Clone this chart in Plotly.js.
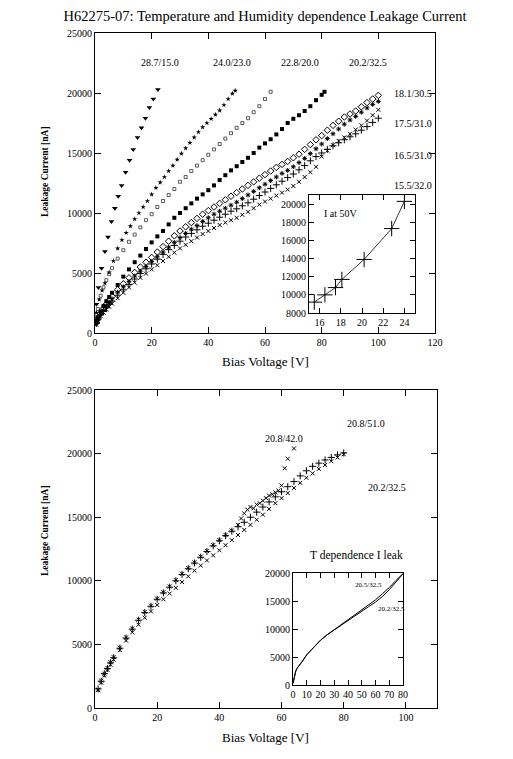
<!DOCTYPE html>
<html>
<head>
<meta charset="utf-8">
<script src="https://cdn.plot.ly/plotly-3.0.1.min.js"></script>
<style>html,body{margin:0;padding:0;background:#fff;}#chart{width:513px;height:759px;}</style>
</head>
<body>
<div id="chart"></div>
<script>
// ---------- Top panel data (Bias Voltage [V] vs Leakage Current [nA]) ----------
const v_287 = [0.5, 1.2, 2.3, 3.5, 4.6, 5.8, 7.0, 8.2, 9.4, 10.8, 12.2, 13.5, 15.0, 16.4, 17.8, 19.2, 20.6, 22.2];
const i_287 = [2400, 3800, 5400, 6800, 8000, 9300, 10400, 11400, 12300, 13400, 14400, 15300, 16300, 17100, 17900, 18800, 19500, 20300];

const v_240 = [0.5, 1.5, 2.5, 3.5, 5, 6.5, 8, 9.5, 11, 12.5, 14, 15.5, 17, 18.5, 20, 21.5, 23, 24.5, 26, 27.5, 29, 30.5, 32, 33.5, 35, 36.5, 38, 39.5, 41, 42.5, 44, 45.5, 47, 48.5, 49.5];
const i_240 = [1700, 2800, 3550, 4150, 5050, 6000, 7050, 7750, 8350, 8900, 9500, 10000, 10500, 11000, 11550, 12100, 12550, 13000, 13500, 13950, 14450, 14950, 15400, 15850, 16300, 16750, 17150, 17500, 17850, 18200, 18550, 19000, 19500, 19950, 20200];

const v_228 = [0.5, 1, 2, 3, 4, 5, 6, 8, 10, 12, 14, 16, 18, 20, 22, 24, 26, 28, 30, 32, 34, 36, 38, 40, 42, 44, 46, 48, 50, 52, 54, 56, 58, 60, 62];
const i_228 = [1300, 2000, 3100, 3800, 4400, 4900, 5400, 6200, 6900, 7600, 8200, 8800, 9400, 9900, 10500, 11000, 11500, 12000, 12600, 13000, 13500, 13950, 14400, 14850, 15300, 15750, 16200, 16650, 17100, 17500, 17900, 18400, 18900, 19500, 20100];

const v_202 = [0.5, 1, 2, 3, 4, 5, 6, 8, 10, 12, 14, 16, 18, 20, 22, 24, 26, 28, 30, 32, 34, 36, 38, 40, 42, 44, 46, 48, 50, 52, 54, 56, 58, 60, 62, 64, 66, 68, 70, 72, 74, 76, 78, 80, 81];
const i_202 = [1000, 1300, 1800, 2250, 2650, 3000, 3350, 4000, 4700, 5300, 5900, 6450, 7000, 7550, 8050, 8500, 9050, 9600, 10000, 10400, 10800, 11200, 11550, 11900, 12300, 12750, 13150, 13550, 13900, 14250, 14600, 15000, 15450, 15800, 16150, 16550, 17000, 17500, 17850, 18150, 18500, 18900, 19400, 19850, 20100];

const v_cluster = [0.5, 1, 2, 3, 4, 5, 6, 8, 10, 12, 14, 16, 18, 20, 22, 24, 26, 28, 30, 32, 34, 36, 38, 40, 42, 44, 46, 48, 50, 52, 54, 56, 58, 60, 62, 64, 66, 68, 70, 72, 74, 76, 78, 80, 82, 84, 86, 88, 90, 92, 94, 96, 98, 100];
const i_181 = [900, 1200, 1650, 2050, 2400, 2750, 3050, 3600, 4100, 4600, 5050, 5500, 5900, 6300, 6750, 7200, 7650, 8100, 8500, 8850, 9200, 9550, 9900, 10200, 10500, 10800, 11100, 11400, 11700, 12000, 12300, 12600, 12900, 13200, 13500, 13800, 14050, 14300, 14600, 14900, 15300, 15700, 16100, 16450, 16900, 17300, 17650, 18000, 18250, 18500, 18850, 19200, 19500, 19800];
const i_175 = [850, 1150, 1550, 1900, 2250, 2550, 2850, 3400, 3850, 4300, 4750, 5150, 5550, 5950, 6350, 6750, 7150, 7550, 7950, 8300, 8650, 8950, 9300, 9600, 9900, 10150, 10400, 10650, 10900, 11200, 11500, 11800, 12100, 12400, 12700, 13000, 13300, 13550, 13850, 14200, 14550, 14950, 15350, 15750, 16200, 16600, 17000, 17400, 17750, 18050, 18400, 18750, 19050, 19300];
const i_165 = [800, 1100, 1500, 1800, 2100, 2400, 2650, 3150, 3600, 4050, 4500, 4950, 5350, 5750, 6150, 6550, 6950, 7300, 7650, 8000, 8300, 8600, 8900, 9150, 9400, 9650, 9900, 10150, 10350, 10600, 10850, 11150, 11450, 11750, 12050, 12350, 12650, 12950, 13250, 13600, 13950, 14350, 14700, 15000, 15300, 15600, 15850, 16100, 16350, 16600, 16900, 17200, 17550, 17900];
const i_155 = [700, 1000, 1400, 1700, 1950, 2200, 2450, 2900, 3350, 3800, 4200, 4600, 4950, 5300, 5650, 6000, 6350, 6700, 7050, 7350, 7650, 7950, 8250, 8500, 8750, 9000, 9200, 9400, 9600, 9850, 10100, 10400, 10700, 10950, 11200, 11450, 11700, 11950, 12250, 12600, 13000, 13400, 13850, 14700, 15200, 15650, 16000, 16300, 16600, 16950, 17300, 17700, 18150, 18600];

// Top inset: I at 50V vs temperature
const t_inset = [15.5, 16.5, 17.5, 18.1, 20.2, 22.8, 24.0];
const i_at50 = [9200, 10000, 10800, 11700, 13900, 17300, 20300];

// ---------- Bottom panel data ----------
const v_bot = [1, 2, 3, 4, 5, 6, 8, 10, 12, 14, 16, 18, 20, 22, 24, 26, 28, 30, 32, 34, 36, 38, 40, 42, 44, 46, 48, 50, 52, 54, 56, 58, 60, 62, 64, 66, 68, 70, 72, 74, 76, 78, 80];
const i_208_51 = [1500, 2100, 2700, 3100, 3550, 3950, 4700, 5500, 6200, 6900, 7500, 8000, 8550, 9050, 9500, 10000, 10500, 10950, 11400, 11850, 12300, 12750, 13150, 13550, 13900, 14250, 14600, 15000, 15400, 15800, 16200, 16600, 17000, 17400, 17800, 18250, 18650, 19000, 19250, 19500, 19700, 19900, 20050];
const i_202_325 = [1400, 2000, 2550, 3000, 3400, 3800, 4550, 5300, 5950, 6550, 7100, 7600, 8100, 8550, 9000, 9450, 9900, 10350, 10800, 11200, 11600, 12000, 12400, 12800, 13200, 13600, 14000, 14400, 14800, 15200, 15650, 16100, 16500, 16900, 17300, 17700, 18100, 18450, 18800, 19100, 19400, 19700, 19950];
const v_208_42 = [1, 2, 3, 4, 5, 6, 8, 10, 12, 14, 16, 18, 20, 22, 24, 26, 28, 30, 32, 34, 36, 38, 40, 42, 44, 46, 47, 48, 49, 50, 51, 52, 53, 54, 55, 56, 57, 58, 59, 60, 61, 62, 64];
const i_208_42 = [1450, 2150, 2700, 3150, 3600, 4000, 4750, 5550, 6250, 6950, 7550, 8050, 8600, 9100, 9550, 10050, 10550, 11000, 11450, 11900, 12350, 12800, 13200, 13600, 13950, 14400, 14900, 15300, 15600, 15800, 15700, 16000, 16100, 16300, 16500, 16700, 16800, 16950, 17100, 17500, 18850, 19600, 20400];

// Bottom inset: T dependence I leak
const v_tinset = [0, 0.3, 1, 2, 3, 5, 7, 10, 15, 20, 25, 30, 35, 40, 45, 50, 55, 60, 65, 70, 75, 80];
const i_205 = [300, 700, 1800, 2500, 3000, 3600, 4300, 5400, 6800, 8000, 9000, 9900, 10800, 11700, 12500, 13400, 14300, 15200, 16300, 17400, 18700, 19900];
const i_202b = [300, 700, 1800, 2500, 3000, 3600, 4300, 5400, 6800, 8000, 9000, 9850, 10700, 11600, 12400, 13200, 14000, 14800, 15800, 17000, 18400, 19850];

// ---------- Labels ----------
const topLabels = ['28.7/15.0', '24.0/23.0', '22.8/20.0', '20.2/32.5'];
const topLabelV = [22.9, 48.4, 72.4, 96.2];
const sideLabels = ['18.1/30.5', '17.5/31.0', '16.5/31.0', '15.5/32.0'];
const sideLabelI = [19970, 17470, 14830, 12330];
const botLabels = ['20.8/51.0', '20.8/42.0', '20.2/32.5'];
const botLabelV = [87.3, 60.7, 93.8];
const botLabelI = [22400, 21220, 17370];

const W = 513, H = 759;
const FONT = 'Liberation Serif, Times New Roman, serif';
const px = v => v / W;
const py = v => (H - v) / H;

function mk(x, y, xa, ya, symbol, size, lw, color) {
  return {x: x, y: y, xaxis: xa, yaxis: ya, type: 'scatter', mode: 'markers', showlegend: false,
    hoverinfo: 'skip',
    marker: {symbol: symbol, size: size, color: color || 'black', line: {color: color || 'black', width: lw}}};
}

const traces = [
  mk(v_287, i_287, 'x', 'y', 'triangle-down', 5, 0),
  mk(v_240, i_240, 'x', 'y', 'star', 4, 0),
  mk(v_228, i_228, 'x', 'y', 'square-open', 3, 0.8, '#333'),
  mk(v_202, i_202, 'x', 'y', 'square', 4, 0),
  mk(v_cluster, i_181, 'x', 'y', 'diamond-open', 5, 1),
  mk(v_cluster, i_175, 'x', 'y', 'asterisk-open', 4, 1),
  mk(v_cluster, i_165, 'x', 'y', 'cross-thin-open', 5, 1),
  mk(v_cluster, i_155, 'x', 'y', 'x-thin-open', 4, 1),
  {x: t_inset, y: i_at50, xaxis: 'x2', yaxis: 'y2', type: 'scatter', mode: 'lines+markers', showlegend: false,
   hoverinfo: 'skip', line: {color: 'black', width: 0.8},
   marker: {symbol: 'cross-thin-open', size: 11, color: 'black', line: {color: 'black', width: 1}}},
  mk(v_bot, i_208_51, 'x3', 'y3', 'cross-thin-open', 5, 1),
  mk(v_bot, i_202_325, 'x3', 'y3', 'x-thin-open', 4, 1),
  mk(v_208_42, i_208_42, 'x3', 'y3', 'x-thin-open', 4, 1),
  {x: v_tinset, y: i_205, xaxis: 'x4', yaxis: 'y4', type: 'scatter', mode: 'lines', showlegend: false,
   hoverinfo: 'skip', line: {color: 'black', width: 1}},
  {x: v_tinset, y: i_202b, xaxis: 'x4', yaxis: 'y4', type: 'scatter', mode: 'lines', showlegend: false,
   hoverinfo: 'skip', line: {color: 'black', width: 1}}
];

const axBase = {
  showline: true, linecolor: 'black', linewidth: 1, mirror: 'ticks',
  ticks: 'inside', ticklen: 6, tickwidth: 1, tickcolor: 'black',
  showgrid: false, zeroline: false, fixedrange: true, tickformat: 'd',
  tickfont: {family: FONT, size: 10, color: 'black'}
};

const ann = [];
const txt = (text, x, y, xref, yref, size, extra) => Object.assign({
  text: text, x: x, y: y, xref: xref, yref: yref, showarrow: false,
  xanchor: 'center', yanchor: 'middle',
  font: {family: FONT, size: size, color: 'black'}
}, extra || {});

topLabels.forEach((t, k) => ann.push(txt(t, topLabelV[k], 22500, 'x', 'y', 10)));
sideLabels.forEach((t, k) => ann.push(txt(t, 104.7, sideLabelI[k], 'x', 'y', 10, {xanchor: 'left'})));
ann.push(txt('I at 50V', 16.2, 19000, 'x2', 'y2', 10, {xanchor: 'left'}));
botLabels.forEach((t, k) => ann.push(txt(t, botLabelV[k], botLabelI[k], 'x3', 'y3', 10)));
ann.push(txt('T dependence I leak', px(356), py(555), 'paper', 'paper', 11.5));
ann.push(txt('20.5/32.5', 54.9, 17860, 'x4', 'y4', 7));
ann.push(txt('20.2/32.5', 71.8, 13520, 'x4', 'y4', 7));
ann.push(txt('Bias Voltage [V]', px(265), py(362), 'paper', 'paper', 13));
ann.push(txt('Bias Voltage [V]', px(265), py(737), 'paper', 'paper', 13));
ann.push(txt('<b>Leakage Current [nA]</b>', px(45), py(172), 'paper', 'paper', 9.5, {textangle: -90}));
ann.push(txt('<b>Leakage Current [nA]</b>', px(45), py(531), 'paper', 'paper', 9.5, {textangle: -90}));

const layout = {
  width: W, height: H, autosize: false,
  margin: {l: 0, r: 0, t: 0, b: 0},
  paper_bgcolor: 'white', plot_bgcolor: 'white',
  showlegend: false,
  title: {text: 'H62275-07: Temperature and Humidity dependence Leakage Current',
          x: px(265), y: py(16), xref: 'paper', yref: 'paper', xanchor: 'center', yanchor: 'middle',
          font: {family: FONT, size: 14.5, color: 'black'}},
  xaxis: Object.assign({}, axBase, {domain: [px(95), px(435)], range: [0, 120], tickvals: [0, 20, 40, 60, 80, 100, 120], anchor: 'y'}),
  yaxis: Object.assign({}, axBase, {domain: [py(333), py(33)], range: [0, 25000], tickvals: [0, 5000, 10000, 15000, 20000, 25000], anchor: 'x'}),
  xaxis2: Object.assign({}, axBase, {domain: [px(309), px(415)], range: [15, 25], tickvals: [16, 18, 20, 22, 24], ticklen: 5, anchor: 'y2'}),
  yaxis2: Object.assign({}, axBase, {domain: [py(313), py(195)], range: [8000, 21000], tickvals: [8000, 10000, 12000, 14000, 16000, 18000, 20000], ticklen: 5, anchor: 'x2'}),
  xaxis3: Object.assign({}, axBase, {domain: [px(95), px(437)], range: [0, 110], tickvals: [0, 20, 40, 60, 80, 100], anchor: 'y3'}),
  yaxis3: Object.assign({}, axBase, {domain: [py(708), py(390)], range: [0, 25000], tickvals: [0, 5000, 10000, 15000, 20000, 25000], anchor: 'x3'}),
  xaxis4: Object.assign({}, axBase, {domain: [px(293), px(403)], range: [0, 80], tickvals: [0, 10, 20, 30, 40, 50, 60, 70, 80], ticklen: 5, anchor: 'y4'}),
  yaxis4: Object.assign({}, axBase, {domain: [py(685), py(573)], range: [0, 20000], tickvals: [0, 5000, 10000, 15000, 20000], ticklen: 5, anchor: 'x4'}),
  annotations: ann
};

Plotly.newPlot('chart', traces, layout, {staticPlot: true, displayModeBar: false});
</script>
</body>
</html>
